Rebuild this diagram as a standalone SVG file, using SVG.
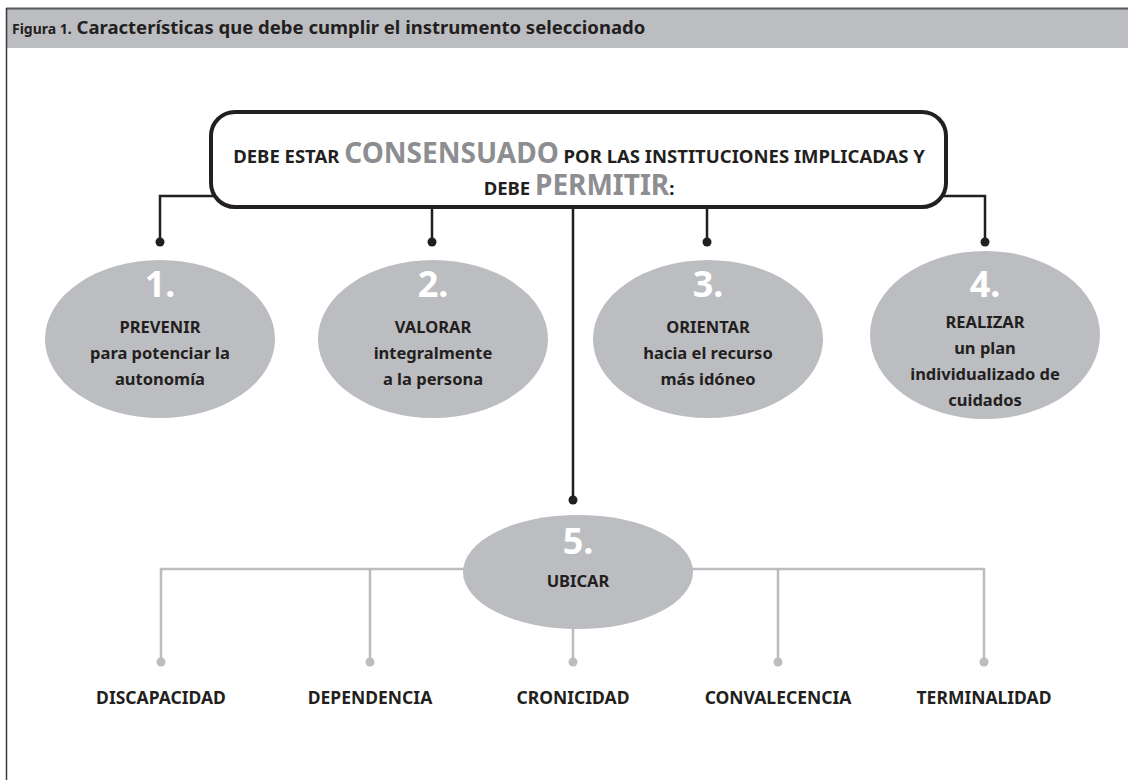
<svg xmlns="http://www.w3.org/2000/svg" width="1128" height="780" viewBox="0 0 1128 780">
<style>
  text { font-family: "Noto Sans", "Open Sans", "Liberation Sans", sans-serif; font-weight: bold; }
  .dark { fill: #231f20; }
  .hl { fill: #8d8e91; font-size: 28px; }
  .t { font-size: 16.5px; fill: #231f20; text-anchor: middle; }
  .num { font-size: 36px; fill: #ffffff; text-anchor: middle; }
  .lbl { font-size: 17.5px; fill: #231f20; text-anchor: middle; }
  .ell { fill: #bcbdc0; }
  .blk { stroke: #231f20; stroke-width: 2.5; fill: none; }
  .gry { stroke: #bcbdc0; stroke-width: 2.5; fill: none; }
</style>
<rect x="0" y="0" width="1128" height="780" fill="#ffffff"/>
<g id="header">
  <rect x="6" y="8" width="1122" height="40" fill="#bcbdc0"/>
  <line x1="6" y1="8.5" x2="1128" y2="8.5" stroke="#58595b" stroke-width="2"/>
  <line x1="6.5" y1="8" x2="6.5" y2="780" stroke="#3a3a3a" stroke-width="1.5"/>
  <text x="12" y="34" class="dark" font-size="18.5"><tspan font-size="14">Figura 1.</tspan> Características que debe cumplir el instrumento seleccionado</text>
</g>
<g id="connectors">
  <path class="blk" d="M160 242 V196 H985 V242"/>
  <path class="blk" d="M432 196 V242 M707 196 V242 M573 205 V500"/>
  <circle cx="160" cy="242" r="4.5" fill="#231f20"/>
  <circle cx="432" cy="242" r="4.5" fill="#231f20"/>
  <circle cx="707" cy="242" r="4.5" fill="#231f20"/>
  <circle cx="985" cy="242" r="4.5" fill="#231f20"/>
  <circle cx="573" cy="500" r="4.5" fill="#231f20"/>
  <path class="gry" d="M161 662 V569 H984 V662"/>
  <path class="gry" d="M370 569 V662 M778 569 V662 M573 600 V662"/>
  <circle cx="161" cy="662" r="4.5" fill="#bcbdc0"/>
  <circle cx="370" cy="662" r="4.5" fill="#bcbdc0"/>
  <circle cx="573" cy="662" r="4.5" fill="#bcbdc0"/>
  <circle cx="778" cy="662" r="4.5" fill="#bcbdc0"/>
  <circle cx="984" cy="662" r="4.5" fill="#bcbdc0"/>
</g>
<g id="top-box">
  <rect x="211" y="112" width="735" height="95" rx="24" ry="24" fill="#ffffff" stroke="#231f20" stroke-width="4"/>
  <text x="579" y="163" text-anchor="middle" font-size="18.5" class="dark">DEBE ESTAR <tspan class="hl">CONSENSUADO</tspan> POR LAS INSTITUCIONES IMPLICADAS Y</text>
  <text x="579" y="195" text-anchor="middle" font-size="18.5" class="dark">DEBE <tspan class="hl">PERMITIR</tspan>:</text>
</g>
<g id="node1">
  <ellipse class="ell" cx="160" cy="339" rx="115" ry="79"/>
  <text class="num" x="160" y="297">1.</text>
  <text class="t" x="160" y="333">PREVENIR</text>
  <text class="t" x="160" y="359">para potenciar la</text>
  <text class="t" x="160" y="385">autonomía</text>
</g>
<g id="node2">
  <ellipse class="ell" cx="433" cy="339" rx="115" ry="79"/>
  <text class="num" x="433" y="297">2.</text>
  <text class="t" x="433" y="333">VALORAR</text>
  <text class="t" x="433" y="359">integralmente</text>
  <text class="t" x="433" y="385">a la persona</text>
</g>
<g id="node3">
  <ellipse class="ell" cx="708" cy="339" rx="115" ry="79"/>
  <text class="num" x="708" y="297">3.</text>
  <text class="t" x="708" y="333">ORIENTAR</text>
  <text class="t" x="708" y="359">hacia el recurso</text>
  <text class="t" x="708" y="385">más idóneo</text>
</g>
<g id="node4">
  <ellipse class="ell" cx="985" cy="335" rx="115" ry="84"/>
  <text class="num" x="985" y="297">4.</text>
  <text class="t" x="985" y="328">REALIZAR</text>
  <text class="t" x="985" y="354">un plan</text>
  <text class="t" x="985" y="380">individualizado de</text>
  <text class="t" x="985" y="406">cuidados</text>
</g>
<g id="node5">
  <ellipse class="ell" cx="578" cy="572" rx="115" ry="57"/>
  <text class="num" x="578" y="554">5.</text>
  <text class="t" x="578" y="587">UBICAR</text>
</g>
<g id="labels">
  <text class="lbl" x="161" y="704">DISCAPACIDAD</text>
  <text class="lbl" x="370" y="704">DEPENDENCIA</text>
  <text class="lbl" x="573" y="704">CRONICIDAD</text>
  <text class="lbl" x="778" y="704">CONVALECENCIA</text>
  <text class="lbl" x="984" y="704">TERMINALIDAD</text>
</g>
</svg>
